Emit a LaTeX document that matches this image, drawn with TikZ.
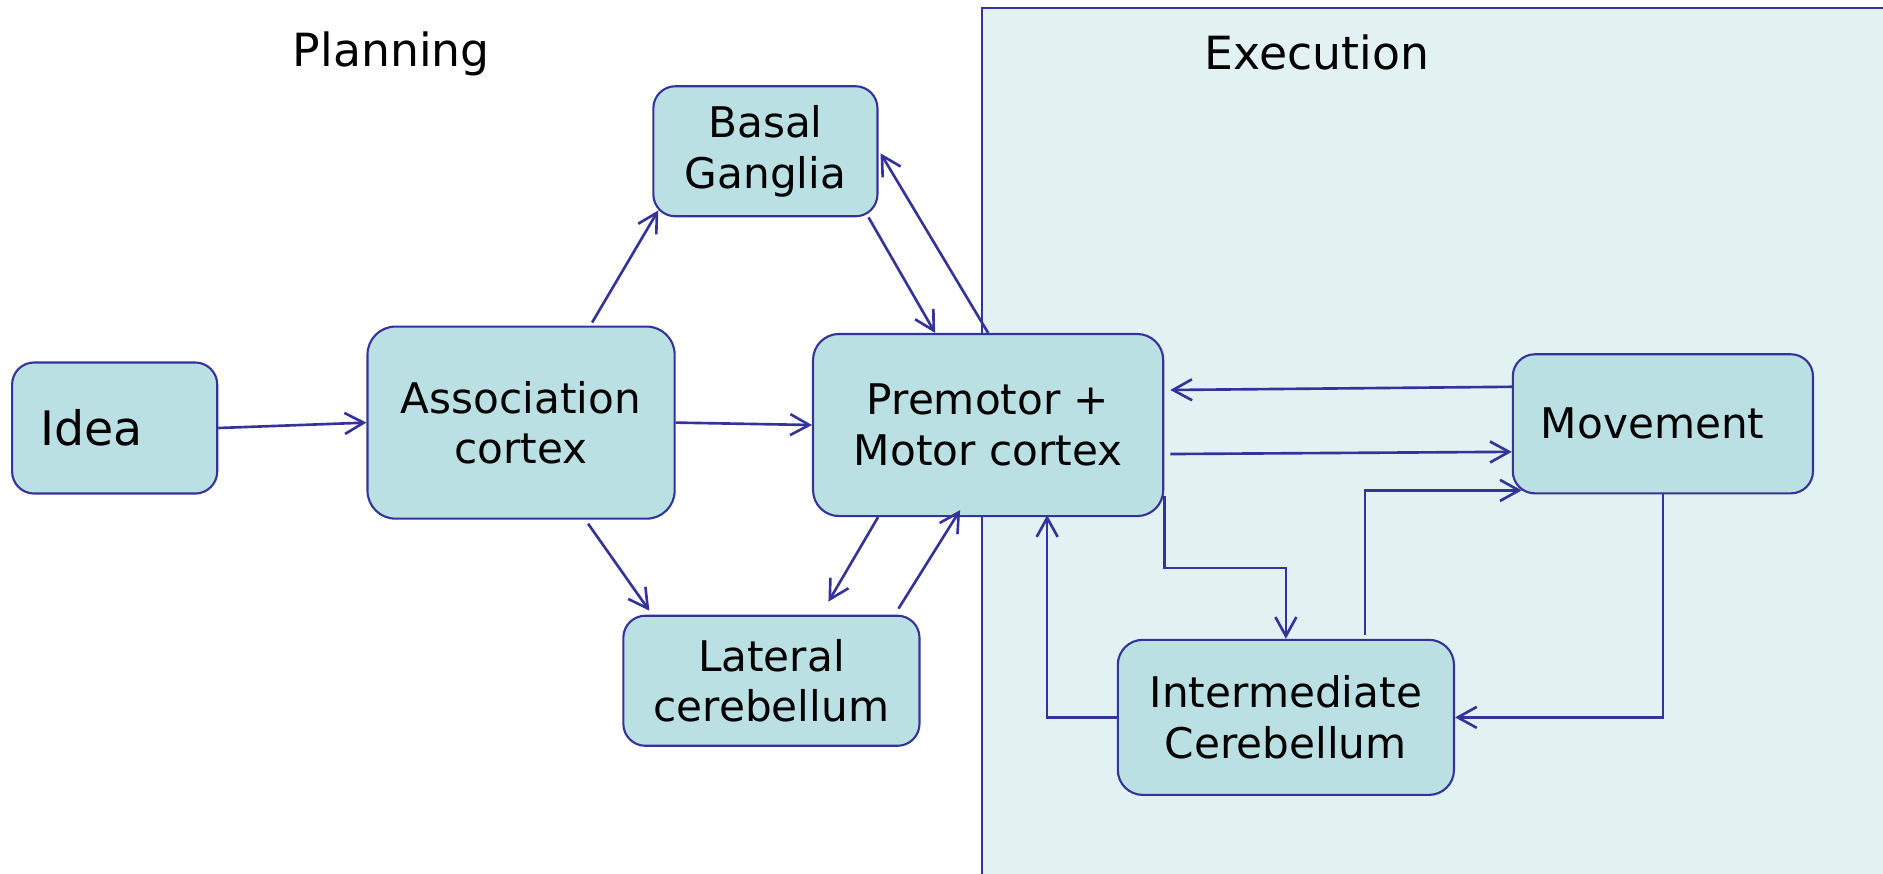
\documentclass[tikz,border=0pt]{standalone}
\usepackage{fontspec}
\setmainfont{DejaVu Sans}
\usetikzlibrary{arrows.meta}
\definecolor{linkblue}{HTML}{343399}
\definecolor{boxfill}{HTML}{BBE0E3}
\definecolor{execfill}{HTML}{E2F2F3}
\begin{document}
\begin{tikzpicture}[
    area/.style={font=\fontsize{13}{15.6}\selectfont},
    block/.style={draw=linkblue,fill=boxfill,line width=0.6pt,rounded corners=0.22cm,
      align=center,inner sep=0pt,font=\fontsize{12}{14.4}\selectfont},
    link/.style={draw=linkblue,line width=0.75pt,-{Straight Barb[length=1.9mm,width=2.1mm]}}
  ]
		\useasboundingbox (0,0) rectangle (18.82,-8.73);
		% execution area
		\fill [execfill] (9.816,-8.9) rectangle (19,-0.084);
		\draw [draw=linkblue,line width=0.6pt] (9.816,-8.9) |- (19,-0.084);
		\node [area] (plan) at (3.912,-0.54) {Planning};
		\node [area] (exec) at (13.164,-0.52) {Execution};
		% boxes
		\node [block,minimum width=2.05cm,minimum height=1.31cm,text width=1.49cm,align=left,
		  inner xsep=0.28cm,font=\fontsize{13.5}{16}\selectfont] (idea) at (1.146,-4.278) {Idea};
		\node [block,minimum width=3.07cm,minimum height=1.92cm,rounded corners=0.28cm] (assoc) at (5.208,-4.224) {Association\\cortex};
		\node [block,minimum width=2.24cm,minimum height=1.30cm] (basal) at (7.65,-1.512) {Basal\\Ganglia};
		\node [block,minimum width=3.50cm,minimum height=1.82cm,rounded corners=0.26cm] (motor) at (9.876,-4.248) {Premotor +\\Motor cortex};
		\node [block,minimum width=2.96cm,minimum height=1.30cm] (lateral) at (7.71,-6.804) {Lateral\\cerebellum};
		\node [block,minimum width=3.36cm,minimum height=1.55cm,rounded corners=0.25cm] (inter) at (12.852,-7.17) {Intermediate\\Cerebellum};
		\node [block,minimum width=3.0cm,minimum height=1.39cm,text width=2.44cm,align=left,
		  inner xsep=0.28cm] (move) at (16.62,-4.236) {Movement};
		% planning links
		\draw [link] (idea.east) -- (assoc.west);
		\draw [link] ([xshift=0.71cm,yshift=0.03cm]assoc.north) -- ([xshift=0.06cm,yshift=0.07cm]basal.south west);
		\draw [link] (assoc.east) -- (motor.west);
		\draw [link] ([xshift=0.67cm,yshift=-0.04cm]assoc.south) -- ([xshift=-1.22cm,yshift=0.04cm]lateral.north);
		\draw [link] ([xshift=-0.1cm]basal.south east) -- ([xshift=-0.53cm]motor.north);
		\draw [link] (motor.north) -- ([xshift=0.02cm,yshift=-0.02cm]basal.east);
		\draw [link] ([xshift=-1.1cm]motor.south) -- ([xshift=0.57cm,yshift=0.13cm]lateral.north);
		\draw [link] ([xshift=1.27cm,yshift=0.06cm]lateral.north) -- ([xshift=-0.28cm,yshift=0.07cm]motor.south);
		% execution links
		\draw [link] ([yshift=0.37cm]move.west) -- ([xshift=0.06cm,yshift=0.35cm]motor.east);
		\draw [link] ([xshift=0.06cm,yshift=-0.29cm]motor.east) -- ([yshift=-0.28cm]move.west);
		\draw [link] ([yshift=-0.71cm]motor.east) -- ++(0,-0.72) -| (inter.north);
		\draw [link] ([xshift=0.79cm,yshift=0.04cm]inter.north) |- ([xshift=0.1cm,yshift=0.04cm]move.south west);
		\draw [link] (move.south) |- (inter.east);
		\draw [link] (inter.west) -| ([xshift=0.59cm,yshift=0.02cm]motor.south);
	\end{tikzpicture}
\end{document}
